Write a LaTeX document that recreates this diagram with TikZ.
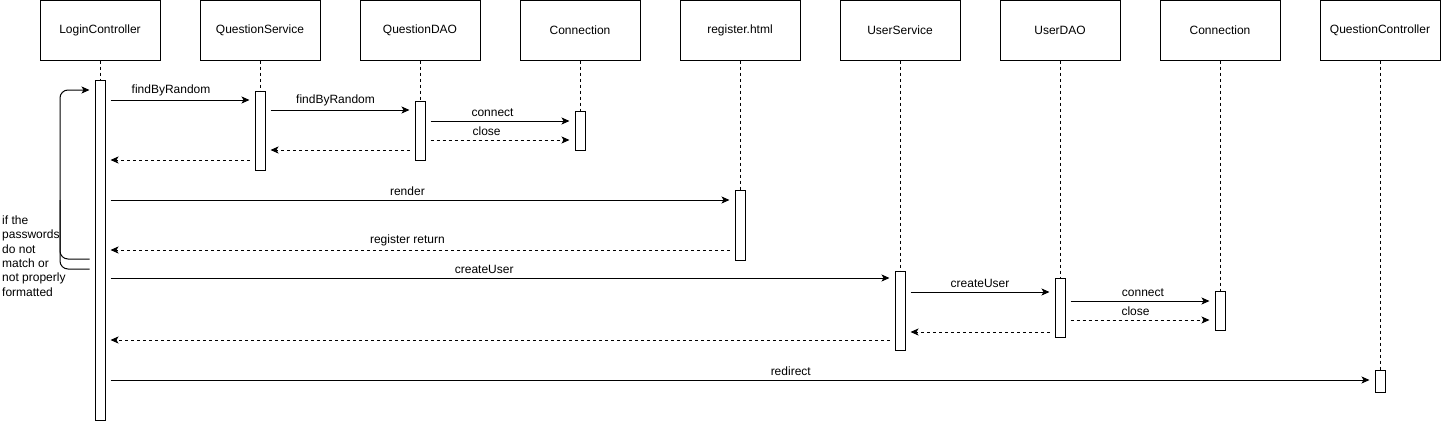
\documentclass[tikz,border=0pt]{standalone}
\usepackage{fontspec}
\setmainfont{Liberation Sans}
\usepackage{tikz}
\usetikzlibrary{arrows.meta}
\definecolor{ink}{HTML}{000000}
\definecolor{paper}{HTML}{FFFFFF}
\tikzset{
  head/.style={draw=ink, line width=1pt, minimum width=120pt, minimum height=60pt, inner sep=0pt, font=\fontsize{12}{14.4}\selectfont},
  act/.style={draw=ink, fill=paper, line width=1pt, minimum width=10pt, inner sep=0pt, anchor=north},
  life/.style={draw=ink, line width=0.8pt, dash pattern=on 3pt off 3pt},
  call/.style={draw=ink, line width=1pt, -{Stealth[length=8pt,width=7pt,inset=2pt]}, shorten <=5pt, shorten >=5pt},
  ret/.style={call, dash pattern=on 3pt off 3pt},
  lab/.style={text=ink, font=\fontsize{12}{14.4}\selectfont, inner sep=1pt, above=3pt},
  labs/.style={lab, above=0pt},
  note/.style={text=ink, font=\fontsize{12}{14.4}\selectfont, inner sep=0pt, align=left, anchor=west},
}
\begin{document}
\begin{tikzpicture}[x=1pt,y=-1pt]
  \path[use as bounding box] (0,0) rectangle (1441,421);
  \node[head] (lc) at (100,30) {LoginController};
  \node[head] (qs) at (260,30) {QuestionService};
  \node[head] (qdao) at (420,30) {QuestionDAO};
  \node[head] (conA) at (580,30) {Connection};
  \node[head] (reg) at (740,30) {register.html};
  \node[head] (us) at (900,30) {UserService};
  \node[head] (udao) at (1060,30) {UserDAO};
  \node[head] (conB) at (1220,30) {Connection};
  \node[head] (qc) at (1380,30) {QuestionController};

  \node[act, minimum height=340pt] (lcA) at (100,80) {};
  \node[act, minimum height=79pt] (qsA) at (260,91) {};
  \node[act, minimum height=59pt] (qdaoA) at (420,101) {};
  \node[act, minimum height=39pt] (conAA) at (580,111) {};
  \node[act, minimum height=70pt] (regA) at (740,190) {};
  \node[act, minimum height=79pt] (usA) at (900,271) {};
  \node[act, minimum height=59pt] (udaoA) at (1060,278) {};
  \node[act, minimum height=39pt] (conBA) at (1220,291) {};
  \node[act, minimum height=22pt] (qcA) at (1380,370) {};

  \draw[life] (lc) -- (lcA);
  \draw[life] (qs) -- (qsA);
  \draw[life] (qdao) -- (qdaoA);
  \draw[life] (conA) -- (conAA);
  \draw[life] (reg) -- (regA);
  \draw[life] (us) -- (usA);
  \draw[life] (udao) -- (udaoA);
  \draw[life] (conB) -- (conBA);
  \draw[life] (qc) -- (qcA);

  \draw[call] (lcA.east |- 0,100) -- node[lab, pos=0.44] {findByRandom} (qsA.west |- 0,100);
  \draw[call] (qsA.east |- 0,110) -- node[lab, pos=0.47] {findByRandom} (qdaoA.west |- 0,110);
  \draw[call] (qdaoA.east |- 0,121) -- node[labs, pos=0.45] {connect} (conAA.west |- 0,121);
  \draw[ret] (qdaoA.east |- 0,140) -- node[labs, pos=0.41] {close} (conAA.west |- 0,140);
  \draw[ret] (qdaoA.west |- 0,150) -- (qsA.east |- 0,150);
  \draw[ret] (qsA.west |- 0,160) -- (lcA.east |- 0,160);
  \draw[call] (lcA.east |- 0,200) -- node[lab, pos=0.48] {render} (regA.west |- 0,200);
  \draw[ret] (regA.west |- 0,250) -- node[lab, pos=0.52] {register return} (lcA.east |- 0,250);
  \draw[call] (lcA.east |- 0,278) -- node[lab, pos=0.48] {createUser} (usA.west |- 0,278);
  \draw[call] (usA.east |- 0,292) -- node[labs, pos=0.5] {createUser} (udaoA.west |- 0,292);
  \draw[call] (udaoA.east |- 0,301) -- node[labs, pos=0.52] {connect} (conBA.west |- 0,301);
  \draw[ret] (udaoA.east |- 0,320) -- node[labs, pos=0.47] {close} (conBA.west |- 0,320);
  \draw[ret] (udaoA.west |- 0,332) -- (usA.east |- 0,332);
  \draw[ret] (usA.west |- 0,340) -- (lcA.east |- 0,340);
  \draw[call] (lcA.east |- 0,380) -- node[lab, pos=0.54] {redirect} (qcA.west |- 0,380);

  \coordinate (turn) at (60,90);
  \draw[call, rounded corners=8pt] (lcA.west |- 0,269) -| (turn) -- (lcA.west |- turn);
  \draw[ink, line width=1pt, rounded corners=8pt, shorten <=5pt] (lcA.west |- 0,259) -| (60,200);
  \node[note] (why) at (2,256) {if the\\passwords\\do not\\match or\\not properly\\formatted};
\end{tikzpicture}
\end{document}
